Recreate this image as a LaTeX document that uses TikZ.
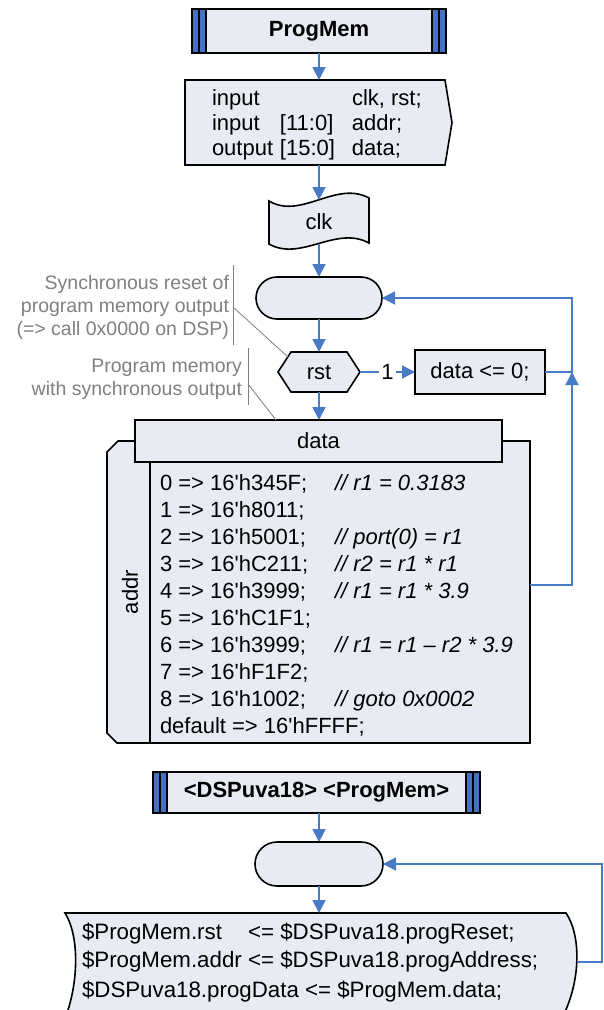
\documentclass[tikz,border=0pt]{standalone}
\usepackage{fontspec}
\setmainfont{Liberation Sans}[Ligatures=TeXOff]
\usetikzlibrary{arrows.meta,calc}
\definecolor{boxfill}{RGB}{233,235,243}
\definecolor{flow}{RGB}{72,122,198}
\definecolor{barblue}{RGB}{70,114,196}
\definecolor{notegray}{RGB}{128,128,128}

\begin{document}
\begin{tikzpicture}[x=1pt,y=-1pt,
  every node/.style={inner sep=0pt,outer sep=0pt},
  shapeborder/.style={draw=black,line width=1.6pt,fill=boxfill},
  maintext/.style={font=\fontsize{22}{27}\selectfont},
  titletext/.style={font=\fontsize{22}{26}\selectfont\bfseries},
  notetext/.style={font=\fontsize{19.5}{23}\selectfont,text=notegray},
  noteline/.style={draw=notegray,line width=0.8pt},
  flowarrow/.style={draw=flow,line width=1.8pt,-{Triangle[width=13pt,length=13pt]}},
  loopline/.style={draw=flow,line width=1.4pt},
  looparrow/.style={loopline,-{Triangle[width=13pt,length=13pt]}},
  thinbar/.style={draw=black,line width=1.2pt}]

\useasboundingbox (0,0) rectangle (604,1010);
\fill[white] (0,0) rectangle (604,1010);
\clip (0,0) rectangle (604,1010);

% ---------- module ProgMem ----------
\node[shapeborder,titletext,minimum width=254pt,minimum height=44pt] (pm) at (319,31) {ProgMem};
\fill[barblue] (pm.north west) rectangle ++(14,44);
\fill[barblue] (pm.north east) rectangle ++(-14,44);
\draw[thinbar] ($(pm.north west)+(7,0)$) -- ++(0,44);
\draw[thinbar] ($(pm.north east)+(-7,0)$) -- ++(0,44);
\draw[line width=1.4pt] ($(pm.north west)+(14,0)$) -- ++(0,44);
\draw[line width=1.4pt] ($(pm.north east)+(-14,0)$) -- ++(0,44);
\draw[line width=1.6pt] (pm.north west) rectangle (pm.south east);

% port declarations
\node[minimum width=260pt,minimum height=85pt] (io) at (315,122.5) {};
\draw[shapeborder] (io.north west) -- (io.north east) -- ($(io.east)+(7,0)$)
  -- (io.south east) -- (io.south west) -- cycle;
\node[font=\fontsize{22}{25}\selectfont,anchor=base west] (iotext) at (212,105)
  {\begin{tabular}[t]{@{}p{68pt}@{}p{72pt}@{}l@{}}
   input && clk, rst;\\
   input & [11:0] & addr;\\
   output & [15:0] & data;
   \end{tabular}};

% clock event
\draw[shapeborder] (269,201) .. controls (301,220) and (336,180) .. (369,198)
  -- (369,243) .. controls (336,225) and (301,262) .. (269,244) -- cycle;
\node[maintext,minimum width=100pt,minimum height=44pt] (clk) at (319,222) {clk};

% process start
\node[shapeborder,rounded corners=21pt,minimum width=126pt,minimum height=42pt] (t1) at (319,298) {};

% reset decision
\draw[shapeborder] (278,372) -- (291,352) -- (347,352) -- (360,372) -- (347,392) -- (291,392) -- cycle;
\node[maintext,minimum width=82pt,minimum height=40pt] (rst) at (319,372) {rst};

\node[shapeborder,maintext,minimum width=130pt,minimum height=44pt] (d0) at (480,372) {data <= 0;};

% memory table
\draw[shapeborder] (118,441) -- (530,441) -- (530,743) -- (117,743) -- (107,733) -- (107,452) -- cycle;
\node[minimum width=423pt,minimum height=302pt] (body) at (318.5,592) {};
\node[shapeborder,maintext,minimum width=367pt,minimum height=42pt] (hdr) at (318.5,441) {data};
\draw[line width=1.6pt] (150,462) -- (150,743);
\node[maintext,rotate=90] (addr) at (130,592) {addr};
\node[maintext,anchor=base west] (code) at (160,490)
  {\begin{tabular}[t]{@{}p{175pt}@{}l@{}}
   0 => 16'h345F; & \textit{// r1 = 0.3183}\\
   1 => 16'h8011; & \\
   2 => 16'h5001; & \textit{// port(0) = r1}\\
   3 => 16'hC211; & \textit{// r2 = r1 * r1}\\
   4 => 16'h3999; & \textit{// r1 = r1 * 3.9}\\
   5 => 16'hC1F1; & \\
   6 => 16'h3999; & \textit{// r1 = r1 – r2 * 3.9}\\
   7 => 16'hF1F2; & \\
   8 => 16'h1002; & \textit{// goto 0x0002}\\
   \multicolumn{2}{@{}l@{}}{default => 16'hFFFF;}
   \end{tabular}};

% main flow
\draw[flowarrow] (pm.south) -- (pm.south |- io.north);
\draw[flowarrow] (pm.south |- io.south) -- (clk.north);
\draw[flowarrow] (clk.south) -- (t1.north);
\draw[flowarrow] (t1.south) -- (rst.north);
\draw[flowarrow] (rst.south) -- (rst.south |- hdr.north);
\draw[flowarrow] (rst.east) -- node[fill=white,inner xsep=2pt,maintext] (one) {1} (d0.west);

% loop back to the process start
\coordinate (tap) at (530,585);
\coordinate (loop-low) at (572,585);
\coordinate (loop-join) at (572,372);
\coordinate (loop-top) at (572,298);
\draw[looparrow] (tap) -- (loop-low) -- (loop-join);
\draw[looparrow] (d0.east) -- (loop-join) -- (loop-top) -- (t1.east);

% annotations
\node[notetext,anchor=base east] (note-reset) at (229,289)
  {\begin{tabular}[t]{@{}r@{}}Synchronous reset of\\program memory output\\(=> call 0x0000 on DSP)\end{tabular}};
\coordinate (bar1-top) at (233,265);
\coordinate (bar1-bot) at (233,345);
\coordinate (bar1-tap) at (233,307);
\coordinate (rst-hit) at (288,357);
\draw[noteline] (bar1-top) -- (bar1-bot);
\draw[noteline] (bar1-tap) -- (rst-hit);

\node[notetext,anchor=base east] (note-mem) at (242,372)
  {\begin{tabular}[t]{@{}r@{}}Program memory\\with synchronous output\end{tabular}};
\coordinate (bar2-top) at (248,348);
\coordinate (bar2-bot) at (248,405);
\coordinate (bar2-tap) at (248,384);
\coordinate (hdr-hit) at (276,420);
\draw[noteline] (bar2-top) -- (bar2-bot);
\draw[noteline] (bar2-tap) -- (hdr-hit);

% ---------- instance connection ----------
\node[shapeborder,titletext,minimum width=327pt,minimum height=41pt] (inst) at (316.5,792.5) {<DSPuva18> <ProgMem>};
\fill[barblue] (inst.north west) rectangle ++(14,41);
\fill[barblue] (inst.north east) rectangle ++(-14,41);
\draw[thinbar] ($(inst.north west)+(7,0)$) -- ++(0,41);
\draw[thinbar] ($(inst.north east)+(-7,0)$) -- ++(0,41);
\draw[line width=1.4pt] ($(inst.north west)+(14,0)$) -- ++(0,41);
\draw[line width=1.4pt] ($(inst.north east)+(-14,0)$) -- ++(0,41);
\draw[line width=1.6pt] (inst.north west) rectangle (inst.south east);

\node[shapeborder,rounded corners=22pt,minimum width=128pt,minimum height=44pt] (t2) at (319,864) {};

\draw[shapeborder] (65,913) -- (566,913) .. controls (581,935) and (581,980) .. (563,1016)
  -- (66,1016) .. controls (79,980) and (79,935) .. (65,913) -- cycle;
\node[minimum width=502pt,minimum height=97pt] (assign) at (316,961.5) {};
\node[font=\fontsize{22.3}{27.5}\selectfont,anchor=base west] (assigntext) at (82,939.5)
  {\begin{tabular}[t]{@{}l@{\ }l@{}}
   \$ProgMem.rst & <= \$DSPuva18.progReset;\\
   \$ProgMem.addr & <= \$DSPuva18.progAddress;\\[3pt]
   \multicolumn{2}{@{}l@{}}{\$DSPuva18.progData <= \$ProgMem.data;}
   \end{tabular}};

\draw[flowarrow] (t2.north |- inst.south) -- (t2.north);
\draw[flowarrow] (t2.south) -- (t2.south |- assign.north);

\coordinate (loop2-out) at (577,962);
\coordinate (loop2-low) at (602,962);
\coordinate (loop2-top) at (602,864);
\draw[looparrow] (loop2-out) -- (loop2-low) -- (loop2-top) -- (t2.east);
\end{tikzpicture}
\end{document}
